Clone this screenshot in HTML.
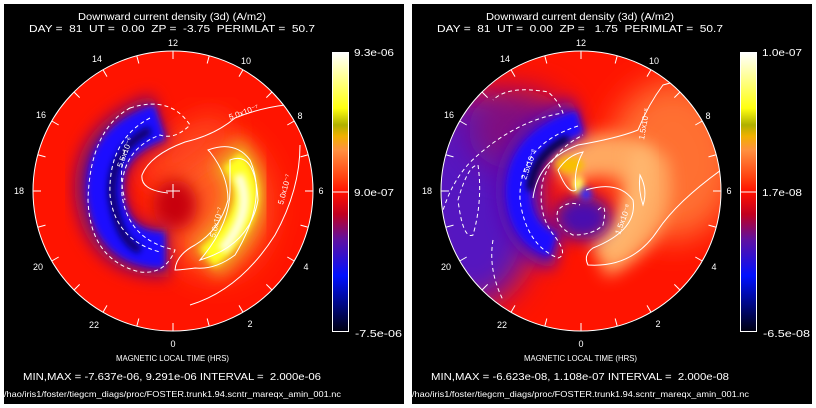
<!DOCTYPE html>
<html><head><meta charset="utf-8"><style>
html,body{margin:0;padding:0;background:#fff;}
svg{display:block;}
text{font-family:"Liberation Sans",sans-serif;fill:#fff;}
</style></head><body>
<svg width="816" height="408" viewBox="0 0 816 408" xmlns="http://www.w3.org/2000/svg">
<defs>
<filter id="b4" x="-50%" y="-50%" width="200%" height="200%"><feGaussianBlur stdDeviation="3.5"/></filter>
<filter id="b8" x="-50%" y="-50%" width="200%" height="200%"><feGaussianBlur stdDeviation="8"/></filter>
<filter id="b15" x="-50%" y="-50%" width="200%" height="200%"><feGaussianBlur stdDeviation="16"/></filter>
<clipPath id="cc"><circle cx="173" cy="191" r="140"/></clipPath>
<linearGradient id="cb" x1="0" y1="1" x2="0" y2="0">
<stop offset="0" stop-color="#000010"/>
<stop offset="0.2" stop-color="#0010ff"/>
<stop offset="0.33" stop-color="#6010a0"/>
<stop offset="0.42" stop-color="#c00020"/>
<stop offset="0.5" stop-color="#ff1000"/>
<stop offset="0.55" stop-color="#ff4010"/>
<stop offset="0.65" stop-color="#ff9040"/>
<stop offset="0.7" stop-color="#f0b000"/>
<stop offset="0.74" stop-color="#b0b000"/>
<stop offset="0.8" stop-color="#ffff10"/>
<stop offset="1" stop-color="#ffffff"/>
</linearGradient>
<g id="ticks" stroke="#fff" stroke-width="1">
<line x1="0" y1="-140" x2="0" y2="-132"/>
<line x1="0" y1="-140" x2="0" y2="-132" transform="rotate(15)"/>
<line x1="0" y1="-140" x2="0" y2="-132" transform="rotate(30)"/>
<line x1="0" y1="-140" x2="0" y2="-132" transform="rotate(45)"/>
<line x1="0" y1="-140" x2="0" y2="-132" transform="rotate(60)"/>
<line x1="0" y1="-140" x2="0" y2="-132" transform="rotate(75)"/>
<line x1="0" y1="-140" x2="0" y2="-132" transform="rotate(90)"/>
<line x1="0" y1="-140" x2="0" y2="-132" transform="rotate(105)"/>
<line x1="0" y1="-140" x2="0" y2="-132" transform="rotate(120)"/>
<line x1="0" y1="-140" x2="0" y2="-132" transform="rotate(135)"/>
<line x1="0" y1="-140" x2="0" y2="-132" transform="rotate(150)"/>
<line x1="0" y1="-140" x2="0" y2="-132" transform="rotate(165)"/>
<line x1="0" y1="-140" x2="0" y2="-132" transform="rotate(180)"/>
<line x1="0" y1="-140" x2="0" y2="-132" transform="rotate(195)"/>
<line x1="0" y1="-140" x2="0" y2="-132" transform="rotate(210)"/>
<line x1="0" y1="-140" x2="0" y2="-132" transform="rotate(225)"/>
<line x1="0" y1="-140" x2="0" y2="-132" transform="rotate(240)"/>
<line x1="0" y1="-140" x2="0" y2="-132" transform="rotate(255)"/>
<line x1="0" y1="-140" x2="0" y2="-132" transform="rotate(270)"/>
<line x1="0" y1="-140" x2="0" y2="-132" transform="rotate(285)"/>
<line x1="0" y1="-140" x2="0" y2="-132" transform="rotate(300)"/>
<line x1="0" y1="-140" x2="0" y2="-132" transform="rotate(315)"/>
<line x1="0" y1="-140" x2="0" y2="-132" transform="rotate(330)"/>
<line x1="0" y1="-140" x2="0" y2="-132" transform="rotate(345)"/>
</g>
<g id="frame">
<rect x="4" y="4" width="400" height="400" fill="#000"/>
<text x="78" y="20" font-size="10" textLength="188" lengthAdjust="spacingAndGlyphs">Downward current density (3d) (A/m2)</text>
<text x="173" y="46" font-size="9" text-anchor="middle">12</text>
<text x="97" y="62" font-size="9" text-anchor="middle">14</text>
<text x="41" y="118" font-size="9" text-anchor="middle">16</text>
<text x="19" y="194" font-size="9" text-anchor="middle">18</text>
<text x="38" y="270" font-size="9" text-anchor="middle">20</text>
<text x="94" y="328" font-size="9" text-anchor="middle">22</text>
<text x="173" y="347" font-size="9" text-anchor="middle">0</text>
<text x="250" y="327" font-size="9" text-anchor="middle">2</text>
<text x="306" y="270" font-size="9" text-anchor="middle">4</text>
<text x="321" y="194" font-size="9" text-anchor="middle">6</text>
<text x="300" y="119" font-size="9" text-anchor="middle">8</text>
<text x="246" y="64" font-size="9" text-anchor="middle">10</text>
<text x="116" y="361" font-size="8.5" textLength="113" lengthAdjust="spacingAndGlyphs">MAGNETIC LOCAL TIME (HRS)</text>
<text x="4" y="397" font-size="8.5" textLength="337" lengthAdjust="spacingAndGlyphs">/hao/iris1/foster/tiegcm_diags/proc/FOSTER.trunk1.94.scntr_mareqx_amin_001.nc</text>
<rect x="332.5" y="52.5" width="16" height="279" fill="url(#cb)" stroke="#fff"/>
<line x1="332" y1="192" x2="349" y2="192" stroke="#fff"/>
</g>
</defs>

<rect width="816" height="408" fill="#fff"/>

<!-- LEFT PANEL -->
<use href="#frame"/>
<text x="29" y="32" font-size="10" textLength="286" lengthAdjust="spacingAndGlyphs" xml:space="preserve">DAY =  81  UT =  0.00  ZP =  -3.75  PERIMLAT =  50.7</text>
<text x="354" y="56" font-size="10" textLength="40" lengthAdjust="spacingAndGlyphs">9.3e-06</text>
<text x="354" y="196" font-size="10" textLength="40" lengthAdjust="spacingAndGlyphs">9.0e-07</text>
<text x="355" y="337" font-size="10" textLength="47" lengthAdjust="spacingAndGlyphs">-7.5e-06</text>
<text x="23" y="380" font-size="10" textLength="298" lengthAdjust="spacingAndGlyphs" xml:space="preserve">MIN,MAX = -7.637e-06, 9.291e-06 INTERVAL =  2.000e-06</text>
<g clip-path="url(#cc)">
<circle cx="173" cy="191" r="140" fill="#ff1400"/>
<ellipse cx="215" cy="205" rx="55" ry="70" fill="#ff5a20" filter="url(#b15)"/>
<path d="M150,180 Q175,150 225,125" stroke="#ff4a20" stroke-width="30" fill="none" filter="url(#b15)"/>
<ellipse cx="175" cy="205" rx="22" ry="25" fill="#c80010" filter="url(#b8)"/>
<path d="M160,118 Q95,140 100,195 Q108,255 168,252" stroke="#7a0a70" stroke-width="50" fill="none" filter="url(#b8)"/>
<path d="M160,122 Q100,142 105,195 Q112,250 165,250" stroke="#1a10ff" stroke-width="36" fill="none" filter="url(#b4)"/>
<path d="M150,130 Q110,150 112,195 Q118,240 140,250" stroke="#0a0060" stroke-width="8" fill="none" filter="url(#b4)"/>
<path d="M225,152 Q275,200 205,262" stroke="#f0a020" stroke-width="42" fill="none" filter="url(#b8)"/>
<path d="M232,160 Q270,205 207,258" stroke="#ffff20" stroke-width="24" fill="none" filter="url(#b4)"/>
<path d="M238,175 Q256,210 222,250" stroke="#ffffe0" stroke-width="10" fill="none" filter="url(#b4)"/>
<g fill="none" stroke="#fff" stroke-width="1">
<path d="M168,193 Q140,190 142,175 Q150,155 185,142 Q215,135 235,118 Q260,108 285,105"/>
<path d="M208,150 Q235,140 250,160 Q268,200 235,255 Q215,270 195,268 Q180,270 175,270 Q176,255 195,245 Q220,230 228,200 Q228,175 210,152Z"/>
<path d="M230,160 Q255,150 258,200 Q250,245 200,260 Q230,225 230,190Z"/>
<path d="M300,145 Q300,190 275,235 Q240,290 190,305"/>
</g>
<g fill="none" stroke="#fff" stroke-width="1" stroke-dasharray="4,3">
<path d="M130,108 Q170,95 190,125 Q175,140 160,135 Q120,150 122,195 Q128,240 175,250 Q165,275 140,272 Q90,260 88,200 Q90,130 130,108Z"/>
<path d="M150,118 Q108,140 110,195 Q115,240 160,252"/>
<path d="M125,150 Q118,175 125,200"/>
</g>
</g>
<circle cx="173" cy="191" r="140" fill="none" stroke="#fff" stroke-width="1"/>
<use href="#ticks" transform="translate(173,191)"/>
<path d="M166,191H180M173,184V198" stroke="#fff"/>
<text x="230" y="120" font-size="8" transform="rotate(-20 230 120)">5.0x10⁻⁷</text>
<text x="283" y="205" font-size="8" transform="rotate(-75 283 205)">5.0x10⁻⁷</text>
<text x="122" y="168" font-size="8" transform="rotate(-70 122 168)">5.5x10⁻⁶</text>
<text x="215" y="238" font-size="8" transform="rotate(-75 215 238)">5.0x10⁻⁷</text>

<!-- RIGHT PANEL -->
<g transform="translate(408,0)">
<use href="#frame"/>
<text x="29" y="32" font-size="10" textLength="286" lengthAdjust="spacingAndGlyphs" xml:space="preserve">DAY =  81  UT =  0.00  ZP =   1.75  PERIMLAT =  50.7</text>
<text x="354" y="56" font-size="10" textLength="40" lengthAdjust="spacingAndGlyphs">1.0e-07</text>
<text x="354" y="196" font-size="10" textLength="40" lengthAdjust="spacingAndGlyphs">1.7e-08</text>
<text x="355" y="337" font-size="10" textLength="47" lengthAdjust="spacingAndGlyphs">-6.5e-08</text>
<text x="23" y="380" font-size="10" textLength="298" lengthAdjust="spacingAndGlyphs" xml:space="preserve">MIN,MAX = -6.623e-08, 1.108e-07 INTERVAL =  2.000e-08</text>
<g clip-path="url(#cc)">
<circle cx="173" cy="191" r="140" fill="#ff1400"/>
<ellipse cx="265" cy="160" rx="65" ry="80" fill="#ff7030" filter="url(#b15)"/>
<ellipse cx="65" cy="200" rx="65" ry="105" fill="#5518c0" filter="url(#b15)"/>
<ellipse cx="110" cy="130" rx="50" ry="40" fill="#801080" filter="url(#b15)"/>
<path d="M150,170 Q200,140 240,170 Q250,230 190,258" stroke="#ffa860" stroke-width="42" fill="none" filter="url(#b8)"/>
<path d="M230,150 Q245,200 200,250" stroke="#ffb870" stroke-width="20" fill="none" filter="url(#b8)"/>
<ellipse cx="175" cy="218" rx="28" ry="22" fill="#4810b0" filter="url(#b8)"/>
<path d="M170,118 Q105,140 108,195 Q112,240 150,250" stroke="#5a10b0" stroke-width="40" fill="none" filter="url(#b8)"/>
<path d="M172,122 Q108,142 110,195 Q113,235 145,245" stroke="#1a10ff" stroke-width="24" fill="none" filter="url(#b4)"/>
<path d="M160,138 Q125,155 122,190" stroke="#000030" stroke-width="7" fill="none" filter="url(#b4)"/>
<ellipse cx="162" cy="165" rx="14" ry="8" fill="#f8c000" filter="url(#b4)"/>
<ellipse cx="170" cy="185" rx="6" ry="9" fill="#ffff60" filter="url(#b4)"/>
<ellipse cx="178" cy="194" rx="6" ry="6" fill="#3030ff" filter="url(#b4)"/>
<g fill="none" stroke="#fff" stroke-width="1">
<path d="M125,198 Q130,160 170,145 Q210,138 230,130 Q240,105 255,85 Q275,80 300,70"/>
<path d="M150,170 Q160,155 175,152 Q165,170 168,190 Q160,195 150,170Z"/>
<path d="M232,175 Q240,190 235,205 Q230,190 232,175Z"/>
<path d="M178,190 Q210,180 225,200 Q230,230 185,248 Q175,255 180,265 Q225,268 250,230 Q270,200 320,165"/>
</g>
<g fill="none" stroke="#fff" stroke-width="1" stroke-dasharray="4,3">
<path d="M50,200 Q60,165 70,165 Q75,200 65,235 Q55,240 50,200Z"/>
<path d="M30,230 Q40,180 70,155 Q110,120 155,113 Q150,100 140,92 Q100,85 85,100"/>
<path d="M170,126 Q110,145 112,200 Q118,245 150,258 Q160,255 148,238 Q128,215 135,180 Q145,150 175,135"/>
<path d="M190,210 Q200,200 195,225 Q185,235 165,235 Q145,225 150,210 Q160,200 172,205"/>
<path d="M85,240 Q80,270 95,300"/>
</g>
</g>
<circle cx="173" cy="191" r="140" fill="none" stroke="#fff" stroke-width="1"/>
<use href="#ticks" transform="translate(173,191)"/>
<text x="236" y="140" font-size="8" transform="rotate(-80 236 140)">1.5x10⁻⁸</text>
<text x="212" y="235" font-size="8" transform="rotate(-70 212 235)">1.5x10⁻⁸</text>
<text x="118" y="180" font-size="8" transform="rotate(-70 118 180)">2.5x10⁻⁸</text>
</g>
</svg>
</body></html>
